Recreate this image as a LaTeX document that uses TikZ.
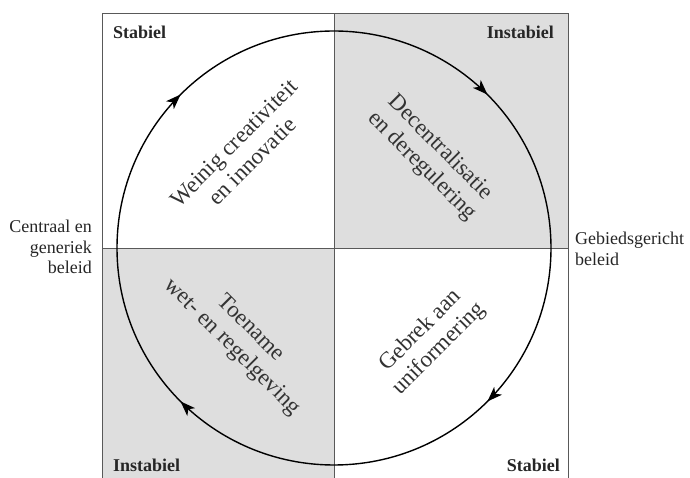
\documentclass[tikz,border=0pt]{standalone}
\usepackage{fontspec}
\setmainfont{Liberation Serif}
\usetikzlibrary{arrows.meta,decorations.markings}
\begin{document}
\begin{tikzpicture}[x=1pt,y=1pt,
  frame/.style={draw=black!65, line width=0.9pt},
  quadfill/.style={fill=black!13},
  cyclearc/.style={line width=1.4pt, postaction={decorate},
    decoration={markings, mark=between positions 0.125 and 1 step 0.25 with {\arrow{Stealth[length=15pt,width=11pt,inset=4pt]}}}},
  corner/.style={font=\fontsize{18}{20}\selectfont\bfseries, text=black!85, inner sep=0pt},
  side/.style={font=\fontsize{18}{20.5}\selectfont, text=black!85, inner sep=0pt},
  quad/.style={font=\fontsize{23}{26}\selectfont, text=black!80, align=center, inner sep=0pt}]
\useasboundingbox (-334,-230) rectangle (356,248);
\fill[quadfill] (0,0) rectangle (234,235);
\fill[quadfill] (-232,-231) rectangle (0,0);
\draw[frame] (-232,-231) rectangle (234,235);
\draw[frame] (0,-231) -- (0,235);
\draw[frame] (-232,0) -- (234,0);
\draw[cyclearc] (0,217) arc[start angle=90, end angle=-270, radius=217];
\node[corner, anchor=base west] (tl) at (-221,209) {Stabiel};
\node[corner, anchor=base east] (tr) at (220,209) {Instabiel};
\node[corner, anchor=base west] (bl) at (-221,-224) {Instabiel};
\node[corner, anchor=base east] (br) at (226,-224) {Stabiel};
\node[side, align=right, anchor=north east] (left) at (-242,28) {Centraal en\\generiek\\beleid};
\node[side, align=left, anchor=north west] (right) at (241,16) {Gebiedsgericht\\beleid};
\node[quad, rotate=45] (q1) at (-91,96) {Weinig creativiteit\\en innovatie};
\node[quad, rotate=-45] (q2) at (97,91) {Decentralisatie\\en deregulering};
\node[quad, rotate=-45] (q3) at (-93,-90) {Toename\\wet- en regelgeving};
\node[quad, rotate=45] (q4) at (96,-92) {Gebrek aan\\uniformering};
\end{tikzpicture}
\end{document}
